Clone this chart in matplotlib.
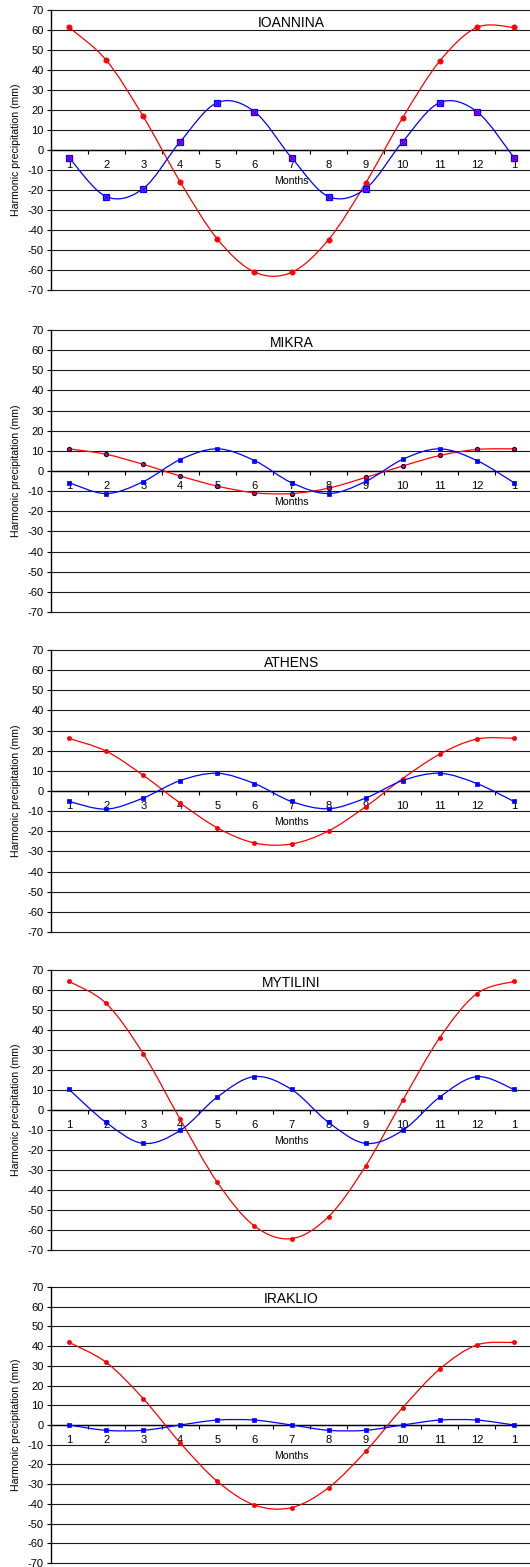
import matplotlib
matplotlib.use('Agg')
import matplotlib.pyplot as plt
from matplotlib.path import Path
from matplotlib.patches import PathPatch

plt.rcParams['font.family'] = ['Liberation Sans', 'DejaVu Sans']

# ---------------- data ----------------
months = ['1', '2', '3', '4', '5', '6', '7', '8', '9', '10', '11', '12', '1']
stations = ['IOANNINA', 'MIKRA', 'ATHENS', 'MYTILINI', 'IRAKLIO']

ioannina_first = [61.3, 45.0, 16.8, -16.0, -44.5, -61.0, -61.2, -44.8, -16.5, 16.2, 44.5, 61.3, 61.3]
ioannina_second = [-3.8, -23.3, -19.3, 4.2, 23.7, 19.2, -3.8, -23.3, -19.3, 4.2, 23.7, 19.2, -3.8]

mikra_first = [11.0, 8.3, 3.3, -2.5, -7.5, -10.8, -11.2, -8.5, -3.2, 2.5, 7.7, 10.7, 11.0]
mikra_second = [-5.8, -11.2, -5.3, 5.7, 11.0, 5.2, -5.8, -11.2, -5.2, 5.8, 11.0, 5.2, -5.8]

athens_first = [26.1, 19.8, 7.8, -6.0, -18.3, -25.8, -26.3, -19.8, -7.8, 6.2, 18.3, 25.8, 26.2]
athens_second = [-5.2, -9.0, -3.5, 5.2, 8.8, 3.7, -5.2, -8.8, -3.5, 5.2, 8.8, 3.7, -5.2]

mytilini_first = [64.3, 53.3, 28.2, -4.7, -36.2, -58.0, -64.3, -53.3, -28.0, 4.8, 36.2, 58.2, 64.3]
mytilini_second = [10.3, -6.2, -16.7, -10.2, 6.5, 16.7, 10.3, -6.2, -16.7, -10.2, 6.5, 16.7, 10.3]

iraklio_first = [41.9, 31.8, 13.4, -9.1, -28.6, -40.6, -41.9, -31.8, -13.4, 8.8, 28.4, 40.6, 41.9]
iraklio_second = [0.0, -2.7, -2.7, 0.0, 2.5, 2.5, 0.0, -2.7, -2.7, 0.0, 2.5, 2.5, 0.0]

first_series = [ioannina_first, mikra_first, athens_first, mytilini_first, iraklio_first]
second_series = [ioannina_second, mikra_second, athens_second, mytilini_second, iraklio_second]

y_ticks = list(range(-70, 71, 10))
y_label = 'Harmonic precipitation (mm)'
x_label = 'Months'


def smooth_path(xs, ys):
    """Excel-like smoothed line as cubic Bezier segments through the points."""
    pts = list(zip(xs, ys))
    n = len(pts)
    verts = [pts[0]]
    codes = [Path.MOVETO]
    for i in range(n - 1):
        p0 = pts[i - 1] if i > 0 else pts[i]
        p1 = pts[i]
        p2 = pts[i + 1]
        p3 = pts[i + 2] if i + 2 < n else pts[i + 1]
        c1 = (p1[0] + (p2[0] - p0[0]) / 6.0, p1[1] + (p2[1] - p0[1]) / 6.0)
        c2 = (p2[0] - (p3[0] - p1[0]) / 6.0, p2[1] - (p3[1] - p1[1]) / 6.0)
        verts += [c1, c2, p2]
        codes += [Path.CURVE4] * 3
    return Path(verts, codes)


# ---------------- figure ----------------
W, H = 530, 1567
fig = plt.figure(figsize=(W / 100, H / 100), dpi=100)

tops = [10, 330, 650, 970, 1287]
bottoms = [290, 612, 932, 1250, 1563]
left_px, width_px = 50.5, 482

red_styles = [
    dict(marker='o', ms=3.8, mfc='#ff0000', mec='#ff0000', mew=0.5),
    dict(marker='o', ms=3.0, mfc='#ff0000', mec='#000080', mew=0.8),
    dict(marker='o', ms=3.0, mfc='#ff0000', mec='#ff0000', mew=0.5),
    dict(marker='o', ms=3.0, mfc='#ff0000', mec='#ff0000', mew=0.5),
    dict(marker='o', ms=3.0, mfc='#ff0000', mec='#ff0000', mew=0.5),
]
blue_styles = [
    dict(marker='s', ms=4.2, mfc='#cc00ff', mec='#0000ff', mew=0.9),
    dict(marker='s', ms=3.4, mfc='#0000ff', mec='#0000ff', mew=0.5),
    dict(marker='s', ms=3.4, mfc='#0000ff', mec='#0000ff', mew=0.5),
    dict(marker='s', ms=3.4, mfc='#0000ff', mec='#0000ff', mew=0.5),
    dict(marker='s', ms=3.4, mfc='#0000ff', mec='#0000ff', mew=0.5),
]

xpos = list(range(1, len(months) + 1))
grid_color = '#1a1a1a'

for k, name in enumerate(stations):
    t, b = tops[k], bottoms[k]
    ax = fig.add_axes([left_px / W, 1 - b / H, width_px / W, (b - t) / H])
    ax.set_xlim(0.5, len(months) + 0.5)
    ax.set_ylim(-70, 70)

    # gridlines
    for yv in y_ticks:
        ax.axhline(yv, color=grid_color, lw=0.8, zorder=1, clip_on=False)

    # spines
    for s in ['top', 'right']:
        ax.spines[s].set_visible(False)
    ax.spines['left'].set_color('black')
    ax.spines['left'].set_linewidth(1.0)
    ax.spines['bottom'].set_position(('data', 0))
    ax.spines['bottom'].set_color('black')
    ax.spines['bottom'].set_linewidth(1.0)

    # y axis
    ax.set_yticks(y_ticks)
    ax.set_yticklabels([str(v) for v in y_ticks])
    ax.tick_params(axis='y', direction='out', length=3, width=0.8, pad=2,
                   labelsize=8, colors='black')

    # x axis: labels at categories, tick marks at boundaries
    ax.set_xticks(xpos)
    ax.set_xticklabels(months)
    ax.set_xticks([x + 0.5 for x in xpos[:-1]], minor=True)
    ax.tick_params(axis='x', which='major', length=0, pad=7, labelsize=8, colors='black')
    ax.tick_params(axis='x', which='minor', direction='out', length=3, width=0.8, colors='black')

    ax.set_ylabel(y_label, fontsize=7.6)
    ax.yaxis.set_label_coords((16 - left_px) / width_px, 0.5)
    ax.yaxis.label.set_verticalalignment('center')

    ax.text(7, -15.5, x_label, ha='center', va='center', fontsize=7.6, zorder=5)
    ax.text(7, 63.7, name, ha='center', va='center', fontsize=10, zorder=5)

    # series
    red = first_series[k]
    blue = second_series[k]
    ax.add_patch(PathPatch(smooth_path(xpos, red), fill=False, edgecolor='#ff0000', lw=0.9, zorder=3))
    ax.add_patch(PathPatch(smooth_path(xpos, blue), fill=False, edgecolor='#0000ff', lw=0.9, zorder=3))
    ax.plot(xpos, red, ls='none', zorder=4, **red_styles[k])
    ax.plot(xpos, blue, ls='none', zorder=4, **blue_styles[k])
    if k == 0:
        ax.plot(xpos, blue, ls='none', marker='x', ms=3.2, mec='#0000ff', mew=0.7, zorder=4)

fig.savefig('out.png', dpi=100)
